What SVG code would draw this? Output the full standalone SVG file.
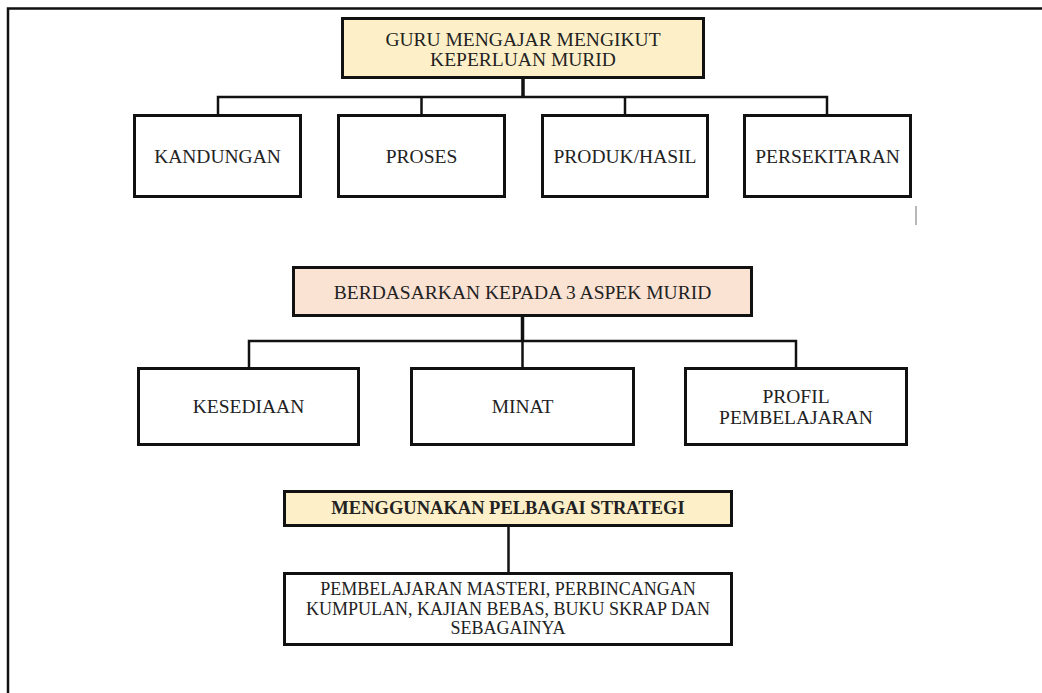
<svg xmlns="http://www.w3.org/2000/svg" width="1042" height="693" viewBox="0 0 1042 693">
<style>
.bg{fill:#ffffff}
.frame{stroke:#111;stroke-width:2.5;fill:none}
.box{fill:#ffffff;stroke:#111;stroke-width:3}
.yellow{fill:#fdf0c9}
.peach{fill:#fbe3d4}
.ln{stroke:#111;stroke-width:2.5;fill:none}
.thick{stroke-width:3.5}
.t{font-family:"Liberation Serif","Times New Roman",serif;font-size:19.5px;fill:#222;text-anchor:middle}
.s{font-size:18px}
.b{font-weight:bold;font-size:18.5px}
</style>
<rect class="bg" x="0" y="0" width="1042" height="693"/>
<path class="frame" d="M8,693 V8.5 H1042"/>
<line x1="916" y1="206" x2="916" y2="225" stroke="#888" stroke-width="1.2"/>
<g id="connectors">
<path class="ln thick" d="M523,79 V97"/>
<path class="ln" d="M218,114 V97 H827 V114 M421.5,97 V114 M625,97 V114"/>
<path class="ln thick" d="M522.5,316 V341"/>
<path class="ln" d="M249,367 V341 H796 V367 M522.5,341 V367"/>
<path class="ln" d="M508.5,527 V572"/>
</g>
<g id="n-guru">
<rect class="box yellow" x="342.5" y="18.5" width="361" height="59"/>
<text class="t" x="523" y="46">GURU MENGAJAR MENGIKUT</text>
<text class="t" x="523" y="66">KEPERLUAN MURID</text>
</g>
<g id="n-kandungan">
<rect class="box" x="134.5" y="115.5" width="166" height="81"/>
<text class="t" x="217.5" y="163">KANDUNGAN</text>
</g>
<g id="n-proses">
<rect class="box" x="338.5" y="115.5" width="166" height="81"/>
<text class="t" x="421.5" y="163">PROSES</text>
</g>
<g id="n-produk">
<rect class="box" x="542.5" y="115.5" width="165" height="81"/>
<text class="t" x="625" y="163">PRODUK/HASIL</text>
</g>
<g id="n-persekitaran">
<rect class="box" x="744.5" y="115.5" width="166" height="81"/>
<text class="t" x="827.5" y="163">PERSEKITARAN</text>
</g>
<g id="n-berdasarkan">
<rect class="box peach" x="293.5" y="267.5" width="458" height="48"/>
<text class="t" x="522.5" y="299">BERDASARKAN KEPADA 3 ASPEK MURID</text>
</g>
<g id="n-kesediaan">
<rect class="box" x="138.5" y="368.5" width="220" height="76"/>
<text class="t" x="248.5" y="413">KESEDIAAN</text>
</g>
<g id="n-minat">
<rect class="box" x="411.5" y="368.5" width="222" height="76"/>
<text class="t" x="522.5" y="413">MINAT</text>
</g>
<g id="n-profil">
<rect class="box" x="685.5" y="368.5" width="221" height="76"/>
<text class="t" x="796" y="403">PROFIL</text>
<text class="t" x="796" y="424">PEMBELAJARAN</text>
</g>
<g id="n-strategi">
<rect class="box yellow" x="284.5" y="491.5" width="447" height="34"/>
<text class="t b" x="508" y="514">MENGGUNAKAN PELBAGAI STRATEGI</text>
</g>
<g id="n-contoh">
<rect class="box" x="284.5" y="573.5" width="447" height="71"/>
<text class="t s" x="508" y="595">PEMBELAJARAN MASTERI, PERBINCANGAN</text>
<text class="t s" x="508" y="615">KUMPULAN, KAJIAN BEBAS, BUKU SKRAP DAN</text>
<text class="t s" x="508" y="634">SEBAGAINYA</text>
</g>
</svg>
